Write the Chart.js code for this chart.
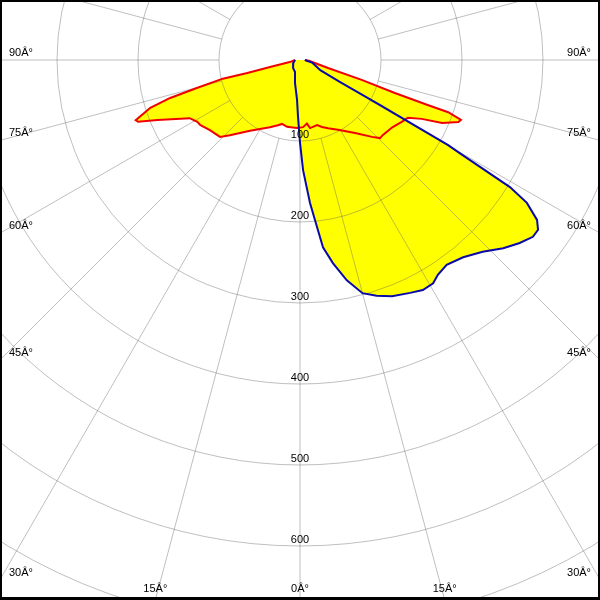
<!DOCTYPE html>
<html>
<head>
<meta charset="utf-8">
<script src="https://cdn.jsdelivr.net/npm/chart.js@4.4.0/dist/chart.umd.min.js"></script>
<style>
  html, body { margin: 0; padding: 0; background: #fff; }
  #wrap { width: 600px; height: 600px; }
</style>
</head>
<body>
<div id="wrap"><canvas id="polarChart" width="600" height="600"></canvas></div>
<script>
// Light distribution, cd. Angle from nadir in degrees, negative = left half.
// Red curve: C0-C180 plane, traced round from the left side to the right side
const redAngles = [-90, -78.7, -76.9, -76.2, -76.4, -74.8, -73.7, -72.3, -69.9,
  -69.1, -67.2, -62.2, -58.9, -57, -52.1, -46.1, -43, -35.2, -24.1, -18.7, -15.7, -11, -2.5,
  2.6, 6.2, 8.4, 14.7, 18.2, 22.4, 28.5, 37, 43.1, 45.7, 47.9, 53.9, 58.7, 61.8, 64.2, 66.1, 68.6,
  69.6, 70.6, 70.6, 70.8, 72.1, 74, 84, 90];
const redValues = [6, 13, 38, 67, 98, 132, 167, 194, 216,
  214, 191, 154, 148, 147, 141, 137, 127, 107, 91, 85, 82, 84, 84,
  83, 79, 85, 83, 87, 91, 98, 113, 130, 138, 138, 141, 147, 151, 167, 192, 210,
  212, 194, 168, 124, 80, 36, 12, 6];

// Blue curve: C90-C270 plane
const blueAngles = [-90, -66.8, -41, -22.6, -12.3, -4.3, -2, -0.8, 0, 1.6, 4, 5.8, 7, 9.2,
  12, 15, 18, 21.3, 25.3, 28.1, 30.8, 32.7, 35.6, 39.6, 43.6, 47.2, 50.2, 52.8, 54.5, 56,
  57.8, 58.8, 59.8, 60.1, 60.6, 61.2, 63.4, 77, 90];
const blueValues = [6, 9, 13, 16, 29, 49, 70, 86, 102, 136, 177, 207, 233, 254,
  278, 298, 306, 313, 318, 322, 321, 315, 311, 316, 327, 342, 353, 361, 361, 353,
  331, 303, 226, 211, 113, 56, 28, 16, 6];

const ringValues = [100, 200, 300, 400, 500, 600, 700, 800];
const ringLabels = ['100', '200', '300', '400', '500', '600'];
const sideAngles = [90, 75, 60, 45, 30];
const bottomAngles = [15, 0];

const pxPerCd = 0.81;   // ring spacing in the picture
const centreY = 60;     // pole sits near the top edge

function toPoints(angles, values) {
  return angles.map((a, i) => {
    const t = a * Math.PI / 180;
    return { x: values[i] * Math.sin(t), y: values[i] * Math.cos(t) };
  });
}

const redPts = toPoints(redAngles, redValues);
const bluePts = toPoints(blueAngles, blueValues);

function drawGrid(chart) {
  const { ctx, scales: { x, y } } = chart;
  const cx = x.getPixelForValue(0), cy = y.getPixelForValue(0);
  const unit = (x.getPixelForValue(100) - cx) / 100;
  ctx.save();
  ctx.strokeStyle = 'rgba(95,95,95,0.4)';
  ctx.lineWidth = 1;
  ringValues.forEach(v => {
    ctx.beginPath();
    ctx.arc(cx, cy, v * unit, 0, Math.PI * 2);
    ctx.stroke();
  });
  for (let a = 0; a < 360; a += 15) {
    const t = a * Math.PI / 180;
    const dx = Math.sin(t), dy = Math.cos(t);
    ctx.beginPath();
    ctx.moveTo(cx + dx * 100 * unit, cy + dy * 100 * unit);
    ctx.lineTo(cx + dx * 1000 * unit, cy + dy * 1000 * unit);
    ctx.stroke();
  }
  ctx.restore();
}

function drawLabels(chart) {
  const { ctx, width, height, scales: { x, y } } = chart;
  const cx = x.getPixelForValue(0), cy = y.getPixelForValue(0);
  const unit = (x.getPixelForValue(100) - cx) / 100;
  ctx.save();
  ctx.fillStyle = '#000';
  ctx.font = '11px "Liberation Sans", Arial, sans-serif';

  ctx.textAlign = 'center';
  ctx.textBaseline = 'bottom';
  ringLabels.forEach(l => {
    ctx.fillText(l, cx, cy + Number(l) * unit - 1);
  });

  ctx.textBaseline = 'middle';
  sideAngles.forEach(a => {
    const t = a * Math.PI / 180;
    const yEdge = cy + cx * Math.cos(t) / Math.sin(t);
    const txt = a + 'Â°';
    ctx.textAlign = 'left';
    ctx.fillText(txt, 9, yEdge - 7);
    ctx.textAlign = 'right';
    ctx.fillText(txt, width - 9, yEdge - 7);
  });

  ctx.textAlign = 'center';
  bottomAngles.forEach(a => {
    const off = (height - cy) * Math.tan(a * Math.PI / 180);
    const txt = a + 'Â°';
    ctx.fillText(txt, cx - off, height - 11);
    if (a !== 0) ctx.fillText(txt, cx + off, height - 11);
  });
  ctx.restore();
}

const gridPlugin = {
  id: 'photoGrid',
  beforeDraw(chart) {
    const { ctx, width, height } = chart;
    ctx.save();
    ctx.fillStyle = '#fff';
    ctx.fillRect(0, 0, width, height);
    ctx.restore();
  },
  afterDatasetDraw(chart, args) {
    // fills are datasets 3 and 2, drawn first; grid goes over them, under the outlines
    if (args.index === 2) drawGrid(chart);
  },
  afterDraw(chart) {
    drawLabels(chart);
    const { ctx, width, height } = chart;
    ctx.save();
    ctx.fillStyle = '#000';
    ctx.fillRect(0, 0, width, 2);
    ctx.fillRect(0, 0, 2, height);
    ctx.fillRect(width - 2, 0, 2, height);
    ctx.fillRect(0, height - 3, width, 3);
    ctx.restore();
  }
};

window.onload = function() {
  const ctx = document.getElementById('polarChart').getContext('2d');
  new Chart(ctx, {
    type: 'scatter',
    data: {
      datasets: [
        { label: 'C90-C270', data: bluePts, showLine: true, borderColor: '#0a0aa8', borderWidth: 2,
          pointRadius: 0, fill: false, tension: 0 },
        { label: 'C0-C180', data: redPts, showLine: true, borderColor: '#f00000', borderWidth: 2,
          pointRadius: 0, fill: false, tension: 0 },
        { label: 'fill2', data: bluePts, showLine: true, borderWidth: 0, borderColor: 'rgba(0,0,0,0)',
          backgroundColor: '#ffff00', pointRadius: 0, fill: 'shape', tension: 0 },
        { label: 'fill1', data: redPts, showLine: true, borderWidth: 0, borderColor: 'rgba(0,0,0,0)',
          backgroundColor: '#ffff00', pointRadius: 0, fill: 'shape', tension: 0 }
      ]
    },
    options: {
      responsive: false,
      animation: false,
      devicePixelRatio: 1,
      events: [],
      layout: { padding: 0 },
      scales: {
        x: { type: 'linear', display: false, min: -300 / pxPerCd, max: 300 / pxPerCd },
        y: { type: 'linear', display: false, reverse: true,
             min: -centreY / pxPerCd, max: (600 - centreY) / pxPerCd }
      },
      plugins: {
        legend: { display: false },
        tooltip: { enabled: false }
      }
    },
    plugins: [gridPlugin]
  });
};
</script>
</body>
</html>
